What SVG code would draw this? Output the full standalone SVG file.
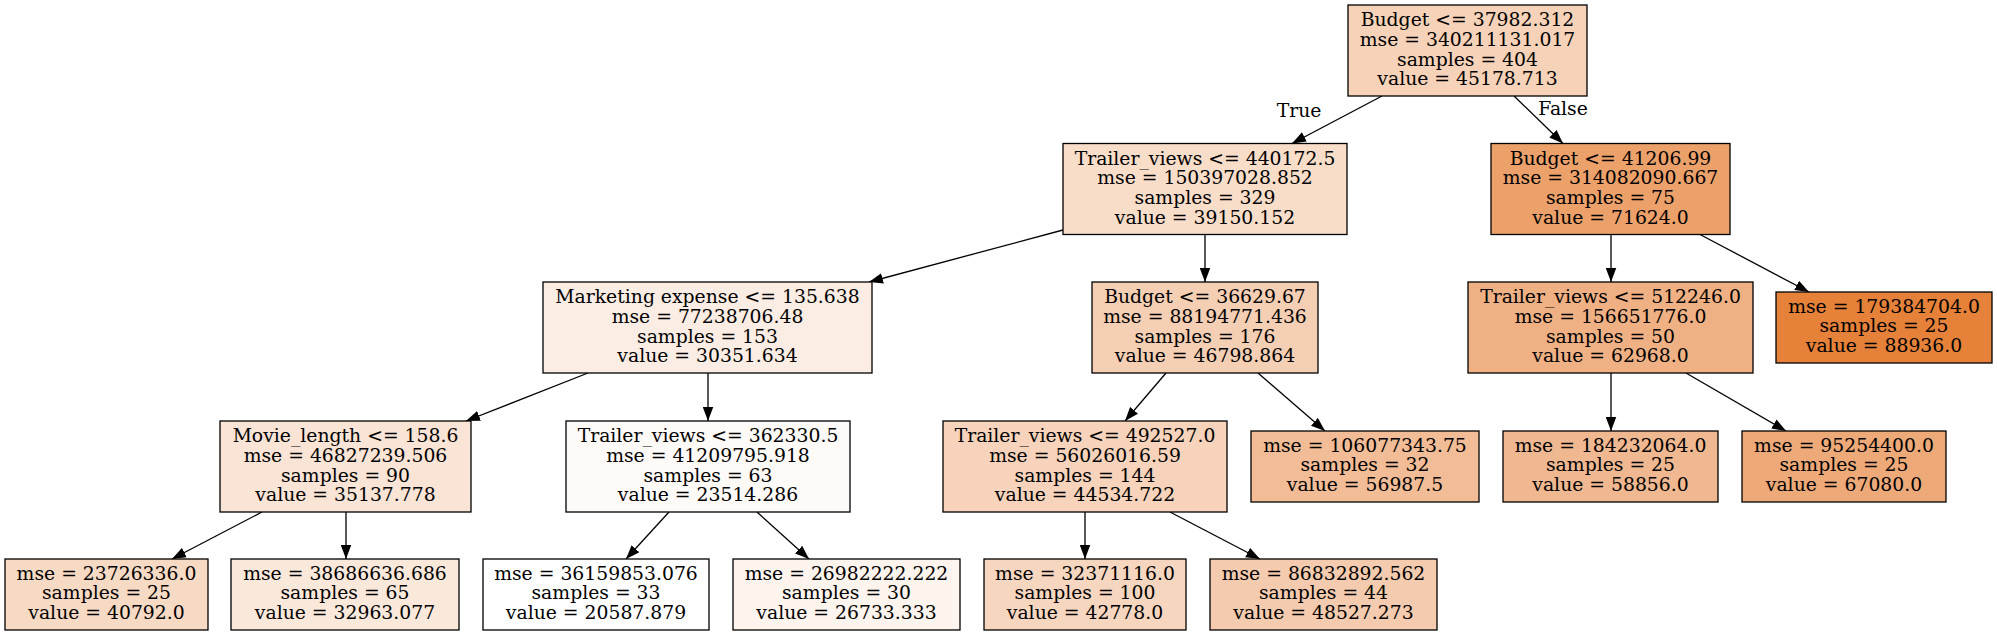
<svg xmlns="http://www.w3.org/2000/svg" width="1997" height="636" viewBox="0 0 1997 636">
<style>
rect{stroke:#000;stroke-width:1.3}
text{font-family:"DejaVu Serif","Liberation Serif",serif;font-size:18.8px;fill:#000;text-anchor:middle}
.e line{stroke:#000;stroke-width:1.3;marker-end:url(#ah)}
</style>
<defs>
<marker id="ah" markerUnits="userSpaceOnUse" markerWidth="15" markerHeight="11" refX="14" refY="5.25" orient="auto" viewBox="0 0 15 10.5">
<path d="M0,0 L14,5.25 L0,10.5 z" fill="#000"/>
</marker>
</defs>
<rect width="1997" height="636" fill="#fff" style="stroke:none"/>
<g class="e" id="edges">
<line x1="1382" y1="96" x2="1292" y2="143.5"/>
<line x1="1514" y1="96" x2="1563" y2="143.5"/>
<line x1="1063" y1="230" x2="869" y2="282"/>
<line x1="1205" y1="234.5" x2="1205" y2="282"/>
<line x1="1611" y1="234.5" x2="1611" y2="282"/>
<line x1="1700" y1="234.5" x2="1809" y2="292"/>
<line x1="588" y1="373" x2="466" y2="421"/>
<line x1="708" y1="373" x2="708" y2="421"/>
<line x1="1166" y1="373" x2="1125" y2="421"/>
<line x1="1258" y1="373" x2="1325" y2="431"/>
<line x1="1611" y1="373" x2="1611" y2="431"/>
<line x1="1686" y1="373" x2="1786" y2="431"/>
<line x1="262" y1="512" x2="172" y2="559"/>
<line x1="346" y1="512" x2="346" y2="559"/>
<line x1="669" y1="512" x2="626" y2="559"/>
<line x1="757" y1="512" x2="809" y2="559"/>
<line x1="1085" y1="512" x2="1085" y2="559"/>
<line x1="1170" y1="512" x2="1260" y2="559"/>
<text x="1299" y="117">True</text>
<text x="1563" y="115">False</text>
</g>
<g id="n0"><rect x="1348" y="5" width="239" height="91" fill="#f6d2b8"/>
<text x="1467.5" y="26">Budget &lt;= 37982.312</text><text x="1467.5" y="45.8">mse = 340211131.017</text><text x="1467.5" y="65.6">samples = 404</text><text x="1467.5" y="85.4">value = 45178.713</text></g>
<g id="n1"><rect x="1063" y="143.5" width="284" height="91" fill="#f8ddc9"/>
<text x="1205" y="164.5">Trailer_views &lt;= 440172.5</text><text x="1205" y="184.3">mse = 150397028.852</text><text x="1205" y="204.1">samples = 329</text><text x="1205" y="223.9">value = 39150.152</text></g>
<g id="n2"><rect x="1491" y="143.5" width="239" height="91" fill="#eca16b"/>
<text x="1610.5" y="164.5">Budget &lt;= 41206.99</text><text x="1610.5" y="184.3">mse = 314082090.667</text><text x="1610.5" y="204.1">samples = 75</text><text x="1610.5" y="223.9">value = 71624.0</text></g>
<g id="n3"><rect x="543" y="282" width="329" height="91" fill="#fbede3"/>
<text x="707.5" y="303">Marketing expense &lt;= 135.638</text><text x="707.5" y="322.8">mse = 77238706.48</text><text x="707.5" y="342.6">samples = 153</text><text x="707.5" y="362.4">value = 30351.634</text></g>
<g id="n4"><rect x="1092" y="282" width="226" height="91" fill="#f5cfb3"/>
<text x="1205" y="303">Budget &lt;= 36629.67</text><text x="1205" y="322.8">mse = 88194771.436</text><text x="1205" y="342.6">samples = 176</text><text x="1205" y="362.4">value = 46798.864</text></g>
<g id="n5"><rect x="1468" y="282" width="285" height="91" fill="#efb184"/>
<text x="1610.5" y="303">Trailer_views &lt;= 512246.0</text><text x="1610.5" y="322.8">mse = 156651776.0</text><text x="1610.5" y="342.6">samples = 50</text><text x="1610.5" y="362.4">value = 62968.0</text></g>
<g id="n6"><rect x="1776" y="292" width="216" height="71" fill="#e58139"/>
<text x="1884" y="312.5">mse = 179384704.0</text><text x="1884" y="332.3">samples = 25</text><text x="1884" y="352.1">value = 88936.0</text></g>
<g id="n7"><rect x="220" y="421" width="251" height="91" fill="#f9e4d5"/>
<text x="345.5" y="442">Movie_length &lt;= 158.6</text><text x="345.5" y="461.8">mse = 46827239.506</text><text x="345.5" y="481.6">samples = 90</text><text x="345.5" y="501.4">value = 35137.778</text></g>
<g id="n8"><rect x="566" y="421" width="284" height="91" fill="#fefaf7"/>
<text x="708" y="442">Trailer_views &lt;= 362330.5</text><text x="708" y="461.8">mse = 41209795.918</text><text x="708" y="481.6">samples = 63</text><text x="708" y="501.4">value = 23514.286</text></g>
<g id="n9"><rect x="943" y="421" width="284" height="91" fill="#f6d3ba"/>
<text x="1085" y="442">Trailer_views &lt;= 492527.0</text><text x="1085" y="461.8">mse = 56026016.59</text><text x="1085" y="481.6">samples = 144</text><text x="1085" y="501.4">value = 44534.722</text></g>
<g id="n10"><rect x="1251" y="431" width="228" height="71" fill="#f1bc96"/>
<text x="1365" y="451.5">mse = 106077343.75</text><text x="1365" y="471.3">samples = 32</text><text x="1365" y="491.1">value = 56987.5</text></g>
<g id="n11"><rect x="1503" y="431" width="215" height="71" fill="#f0b890"/>
<text x="1610.5" y="451.5">mse = 184232064.0</text><text x="1610.5" y="471.3">samples = 25</text><text x="1610.5" y="491.1">value = 58856.0</text></g>
<g id="n12"><rect x="1742" y="431" width="204" height="71" fill="#eda978"/>
<text x="1844" y="451.5">mse = 95254400.0</text><text x="1844" y="471.3">samples = 25</text><text x="1844" y="491.1">value = 67080.0</text></g>
<g id="n13"><rect x="5" y="559" width="203" height="71" fill="#f7dac4"/>
<text x="106.5" y="579.5">mse = 23726336.0</text><text x="106.5" y="599.3">samples = 25</text><text x="106.5" y="619.1">value = 40792.0</text></g>
<g id="n14"><rect x="231" y="559" width="228" height="71" fill="#fae8db"/>
<text x="345" y="579.5">mse = 38686636.686</text><text x="345" y="599.3">samples = 65</text><text x="345" y="619.1">value = 32963.077</text></g>
<g id="n15"><rect x="483" y="559" width="226" height="71" fill="#ffffff"/>
<text x="596" y="579.5">mse = 36159853.076</text><text x="596" y="599.3">samples = 33</text><text x="596" y="619.1">value = 20587.879</text></g>
<g id="n16"><rect x="733" y="559" width="227" height="71" fill="#fdf4ed"/>
<text x="846.5" y="579.5">mse = 26982222.222</text><text x="846.5" y="599.3">samples = 30</text><text x="846.5" y="619.1">value = 26733.333</text></g>
<g id="n17"><rect x="984" y="559" width="202" height="71" fill="#f7d6bf"/>
<text x="1085" y="579.5">mse = 32371116.0</text><text x="1085" y="599.3">samples = 100</text><text x="1085" y="619.1">value = 42778.0</text></g>
<g id="n18"><rect x="1210" y="559" width="227" height="71" fill="#f4cbae"/>
<text x="1323.5" y="579.5">mse = 86832892.562</text><text x="1323.5" y="599.3">samples = 44</text><text x="1323.5" y="619.1">value = 48527.273</text></g>
</svg>
